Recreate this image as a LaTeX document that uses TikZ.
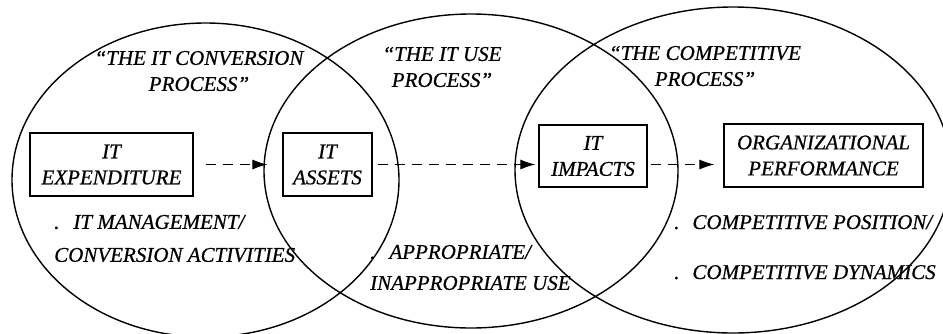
\documentclass[tikz,border=0pt]{standalone}
\usepackage{fontspec}
\setmainfont{Liberation Serif}[ItalicFeatures={FakeBold=0.6}]
\usetikzlibrary{arrows.meta}
\begin{document}
\begin{tikzpicture}[x=1pt,y=-1pt,
    every node/.style={font=\fontsize{21}{26}\selectfont\itshape, inner sep=0pt},
    box/.style={draw, line width=1.2pt, align=center},
    flow/.style={dash pattern=on 10pt off 7pt, line width=1.1pt,
      -{Latex[length=15pt,width=10pt]}}]
  \useasboundingbox (0,0) rectangle (943,333);
  % the three processes
  \draw[line width=1.4pt]
    (205.5,180) ellipse [x radius=193.5pt, y radius=157pt]
    (471,171) ellipse [x radius=207pt, y radius=157pt]
    (733,170) ellipse [x radius=218pt, y radius=163pt];
  \node[align=center] (conv) at (199,71) {“THE IT CONVERSION\\PROCESS”};
  \node[align=center] (use) at (442,67) {“THE IT USE\\PROCESS”};
  \node[align=center] (comp) at (705,66) {“THE COMPETITIVE\\PROCESS”};
  % boxes
  \node[box, minimum width=163pt, minimum height=63pt] (exp) at (111.5,164.5) {IT\\EXPENDITURE};
  \node[box, minimum width=89pt, minimum height=63pt] (assets) at (327.5,164.5) {IT\\ASSETS};
  \node[box, minimum width=108pt, minimum height=62pt] (impacts) at (593,156) {IT\\IMPACTS};
  \node[box, minimum width=199pt, minimum height=63pt] (perf) at (823.5,155.5) {ORGANIZATIONAL\\PERFORMANCE};
  % activities
  \node[anchor=west, align=left] (mgmt) at (54,238.5) {.\hspace{14pt}IT MANAGEMENT/\\[7pt]CONVERSION ACTIVITIES};
  \node[anchor=west, align=left] (approp) at (370,267.5) {.\hspace{14pt}APPROPRIATE/\\[5pt]INAPPROPRIATE USE};
  \node[anchor=base west] (pos) at (674,229) {.\hspace{13pt}COMPETITIVE POSITION/};
  \node[anchor=base west] (dyn) at (674,279) {.\hspace{13pt}COMPETITIVE DYNAMICS};
  \begin{scope}[flow]
    \draw[shorten <=12pt, shorten >=15pt] (exp.east) -- (assets.west);
    \draw[shorten <=5pt, shorten >=3pt] (assets.east) -- (assets -| impacts.west);
    \draw[shorten <=3pt, shorten >=9pt] (impacts.east |- assets) -- (perf.west |- assets);
  \end{scope}
\end{tikzpicture}
\end{document}
